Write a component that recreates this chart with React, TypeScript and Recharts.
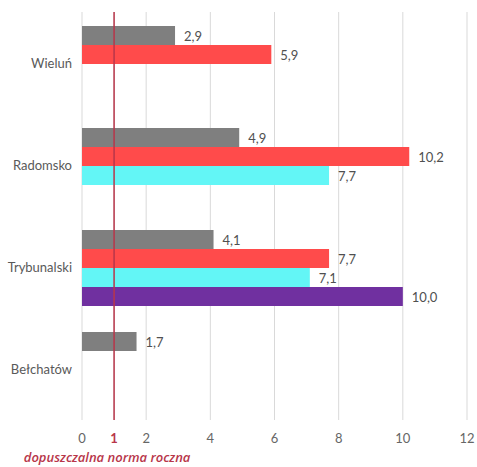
import { BarChart, Bar, XAxis, YAxis, CartesianGrid, ReferenceLine, LabelList } from "recharts";

const categories = ["Wieluń", "Radomsko", "Trybunalski", "Bełchatów"];
const grayValues = [2.9, 4.9, 4.1, 1.7];
const redValues = [5.9, 10.2, 7.7, null];
const cyanValues = [null, 7.7, 7.1, null];
const purpleValues = [null, null, 10.0, null];
const xTicks = [0, 1, 2, 4, 6, 8, 10, 12];
const normValue = 1;
const normLabel = "dopuszczalna norma roczna";

const data = categories.map((name, i) => ({
  name,
  gray: grayValues[i],
  red: redValues[i],
  cyan: cyanValues[i],
  purple: purpleValues[i],
}));

const FONT = "Lato, 'Open Sans', sans-serif";
const NORM_RED = "#b8364a";

const fmt = (v: any) => (v == null ? "" : Number(v).toFixed(1).replace(".", ","));

const renderLabel = (props: any) => {
  const { x, y, width, height, value } = props;
  if (value == null) return null;
  return (
    <text
      x={x + width + 9}
      y={y + height / 2}
      dominantBaseline="central"
      fill="#505050"
      fontSize={13}
      fontFamily={FONT}
    >
      {fmt(value)}
    </text>
  );
};

const XTick = (props: any) => {
  const { x, y, payload } = props;
  const isNorm = payload.value === normValue;
  return (
    <g>
      <text
        x={x}
        y={y + 10}
        textAnchor="middle"
        dominantBaseline="central"
        fill={isNorm ? NORM_RED : "#666666"}
        fontWeight={isNorm ? 700 : 400}
        fontSize={13}
        fontFamily={FONT}
      >
        {payload.value}
      </text>
      {isNorm && (
        <text
          x={x - 7}
          y={y + 29}
          textAnchor="middle"
          dominantBaseline="central"
          fill={NORM_RED}
          fontStyle="italic"
          fontWeight={600}
          fontSize={13}
          fontFamily="'Open Sans', sans-serif"
        >
          {normLabel}
        </text>
      )}
    </g>
  );
};

export default function App() {
  return (
    <div style={{ position: "absolute", left: 0, top: 0, background: "#fff" }}>
      <BarChart
        width={477}
        height={467}
        data={data}
        layout="vertical"
        margin={{ top: 12, right: 10, left: 0, bottom: 0 }}
        barCategoryGap={14}
        barGap={0}
      >
        <CartesianGrid horizontal={false} stroke="#d9d9d9" />
        <XAxis
          type="number"
          domain={[0, 12]}
          ticks={xTicks}
          axisLine={false}
          tickLine={false}
          height={47}
          tick={<XTick />}
          interval={0}
        />
        <YAxis
          type="category"
          dataKey="name"
          width={82}
          axisLine={false}
          tickLine={false}
          tickMargin={4}
          tick={{ fill: "#595959", fontSize: 13, fontFamily: FONT }}
        />
        <Bar dataKey="gray" fill="#7f7f7f" isAnimationActive={false}>
          <LabelList dataKey="gray" content={renderLabel} />
        </Bar>
        <Bar dataKey="red" fill="#ff4b4b" isAnimationActive={false}>
          <LabelList dataKey="red" content={renderLabel} />
        </Bar>
        <Bar dataKey="cyan" fill="#63f6f6" isAnimationActive={false}>
          <LabelList dataKey="cyan" content={renderLabel} />
        </Bar>
        <Bar dataKey="purple" fill="#7030a0" isAnimationActive={false}>
          <LabelList dataKey="purple" content={renderLabel} />
        </Bar>
        <ReferenceLine x={normValue} stroke={NORM_RED} strokeWidth={1.5} ifOverflow="visible" />
      </BarChart>
    </div>
  );
}
